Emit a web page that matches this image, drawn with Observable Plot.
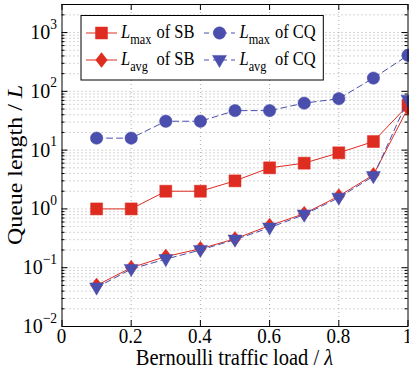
<!DOCTYPE html>
<html><head><meta charset="utf-8">
<script src="https://cdn.jsdelivr.net/npm/d3@7"></script>
<script src="https://cdn.jsdelivr.net/npm/@observablehq/plot@0.6"></script>
<style>
body{margin:0;background:#fff}
#chart svg{display:block}
</style>
</head><body><div id="chart"></div>
<script>
// ---- data ----
const loads = [0.1, 0.2, 0.3, 0.4, 0.5, 0.6, 0.7, 0.8, 0.9, 1.0];
const sbMax = [1, 1, 2, 2, 3, 5, 6, 9, 14, 58];
const sbAvg = [0.05, 0.1, 0.155, 0.21, 0.31, 0.52, 0.83, 1.65, 3.8, 52];
const cqMax = [16, 16, 31, 31, 47, 47, 63, 75, 168, 410];
const cqAvg = [0.046, 0.095, 0.14, 0.2, 0.3, 0.48, 0.8, 1.55, 3.6, 72];
const xTicks = [0, 0.2, 0.4, 0.6, 0.8, 1];
const xTickLabels = ["0", "0.2", "0.4", "0.6", "0.8", "1"];
const yExponents = [-2, -1, 0, 1, 2, 3];
const seriesNames = ["SB", "SB", "CQ", "CQ"];
const seriesSubs = ["max", "avg", "max", "avg"];
const xLabel = "Bernoulli traffic load / ";
const yLabel = "Queue length / ";

// ---- layout ----
const FONT = "'Liberation Serif', 'Times New Roman', serif";
const W = 409, H = 370, mL = 61.5, mR = 1.5, mT = 4, mB = 44;
const plotW = W - mL - mR, plotH = H - mT - mB;
const S = 1.1; // vertical stretch of glyphs seen in the reference
const red = "#de2c20", blue = "#4a4fae";

const rows = loads.map((x, i) => ({x, sbMax: sbMax[i], sbAvg: sbAvg[i], cqMax: cqMax[i], cqAvg: cqAvg[i]}));
const majors = yExponents.map(e => 10 ** e);
const minors = [];
for (const e of yExponents) for (let m = 2; m <= 9; m++) { const v = m * 10 ** e; if (v <= 3000) minors.push(v); }

const sq = {draw(c) { const s = 6; c.moveTo(-s, -s); c.lineTo(s, -s); c.lineTo(s, s); c.lineTo(-s, s); c.closePath(); }};
const dia = {draw(c) { const w = 5.8, h = 7.4; c.moveTo(0, -h); c.lineTo(w, 0); c.lineTo(0, h); c.lineTo(-w, 0); c.closePath(); }};
const tri = {draw(c) { const w = 7, t = 4.6, b = 7.6; c.moveTo(-w, -t); c.lineTo(w, -t); c.lineTo(0, b); c.closePath(); }};
const circ = {draw(c) { c.moveTo(6.2, 0); c.arc(0, 0, 6.2, 0, 2 * Math.PI); }};

const grid = {stroke: "#ababab", strokeWidth: 1, strokeDasharray: "1,3"};

const chart = Plot.plot({
  width: W, height: H,
  marginLeft: mL, marginRight: mR, marginTop: mT, marginBottom: mB,
  style: {fontFamily: FONT, background: "white", overflow: "visible"},
  x: {domain: [0, 1], axis: null},
  y: {type: "log", domain: [0.01, 3000], axis: null},
  marks: [
    Plot.ruleY(minors.concat(majors.slice(1)), grid),
    Plot.ruleX([0.2, 0.4, 0.6, 0.8], grid),
    // inward ticks
    Plot.ruleY(majors, {stroke: "black", insetRight: plotW - 6}),
    Plot.ruleY(majors, {stroke: "black", insetLeft: plotW - 6}),
    Plot.ruleY(minors, {stroke: "black", insetRight: plotW - 3}),
    Plot.ruleY(minors, {stroke: "black", insetLeft: plotW - 3}),
    Plot.ruleX(xTicks, {stroke: "black", insetTop: plotH - 6}),
    Plot.ruleX(xTicks, {stroke: "black", insetBottom: plotH - 6}),
    // series
    Plot.line(rows, {x: "x", y: "sbMax", stroke: red, strokeWidth: 1}),
    Plot.dot(rows, {x: "x", y: "sbMax", symbol: sq, r: 6, fill: red, stroke: red, strokeWidth: 0.5}),
    Plot.line(rows, {x: "x", y: "cqMax", stroke: blue, strokeWidth: 1, strokeDasharray: "6,4"}),
    Plot.dot(rows, {x: "x", y: "cqMax", symbol: circ, r: 6, fill: blue, stroke: blue, strokeWidth: 0.5}),
    Plot.line(rows, {x: "x", y: "sbAvg", stroke: red, strokeWidth: 1}),
    Plot.dot(rows, {x: "x", y: "sbAvg", symbol: dia, r: 6, fill: red, stroke: red, strokeWidth: 0.5}),
    Plot.line(rows, {x: "x", y: "cqAvg", stroke: blue, strokeWidth: 1, strokeDasharray: "6,4"}),
    Plot.dot(rows, {x: "x", y: "cqAvg", symbol: tri, r: 6, fill: blue, stroke: blue, strokeWidth: 0.5}),
    Plot.frame({stroke: "black", strokeWidth: 1})
  ]
});

const svg = d3.select(chart);
const xs = chart.scale("x"), ys = chart.scale("y");

// text helper with the reference's slight vertical glyph stretch
function stext(parent, x, y, size, anchor) {
  return parent.append("text")
    .attr("transform", `translate(${x},${y}) scale(1,${S})`)
    .attr("text-anchor", anchor || "start")
    .attr("font-family", FONT).attr("font-size", size + "px").attr("fill", "black");
}

// x tick labels
const axg = svg.append("g");
xTicks.forEach((v, i) => stext(axg, xs.apply(v), 343, 19, "middle").text(xTickLabels[i]));
// y tick labels 10^k
yExponents.forEach((e, i) => {
  const t = stext(axg, mL - 4.5, ys.apply(majors[i]) + 7, 20, "end").text("10");
  t.append("tspan").attr("dy", -9.5).attr("font-size", "13.5px").text(e < 0 ? "\u2212" + (-e) : String(e));
});

// axis titles
const xt = stext(axg, mL + plotW / 2, 365, 20.5, "middle").text(xLabel);
xt.append("tspan").attr("font-style", "italic").text("\u03bb");
const yt = axg.append("text")
  .attr("transform", `translate(22,${mT + plotH / 2}) rotate(-90) scale(1.14,1)`)
  .attr("text-anchor", "middle").attr("font-family", FONT).attr("font-size", "21px").attr("fill", "black")
  .text(yLabel);
yt.append("tspan").attr("font-style", "italic").text("L");

// legend
const lg = svg.append("g");
lg.append("rect").attr("x", 81).attr("y", 15.5).attr("width", 242.3).attr("height", 64.5)
  .attr("fill", "white").attr("stroke", "black").attr("stroke-width", 1);
const syms = [sq, dia, circ, tri];
const cols = [red, red, blue, blue];
const items = [0, 1, 2, 3].map(i => ({
  col: i < 2 ? 0 : 1, row: i % 2, sym: syms[i], color: cols[i], dash: i < 2 ? null : "5,4",
  name: seriesNames[i], sub: seriesSubs[i]
}));
const colX = [{l0: 86, l1: 117, m: 101.5, L: 121, of: 156.5}, {l0: 204, l1: 235, m: 219.5, L: 239.5, of: 275}];
const rowY = [33, 60];
for (const it of items) {
  const c = colX[it.col], y = rowY[it.row];
  lg.append("line").attr("x1", c.l0).attr("x2", c.l1).attr("y1", y).attr("y2", y)
    .attr("stroke", it.color).attr("stroke-width", 1).attr("stroke-dasharray", it.dash);
  lg.append("path").attr("d", d3.symbol(it.sym)()).attr("transform", `translate(${c.m},${y})`)
    .attr("fill", it.color).attr("stroke", it.color).attr("stroke-width", 0.5);
  const t = stext(lg, c.L, y + 4.5, 16.5);
  t.append("tspan").attr("font-style", "italic").text("L");
  t.append("tspan").attr("font-size", "12.3px").attr("dy", 5.5).text(it.sub);
  stext(lg, c.of, y + 4.5, 16.5).text("of " + it.name);
}

document.getElementById("chart").appendChild(chart);
</script>
</body></html>
